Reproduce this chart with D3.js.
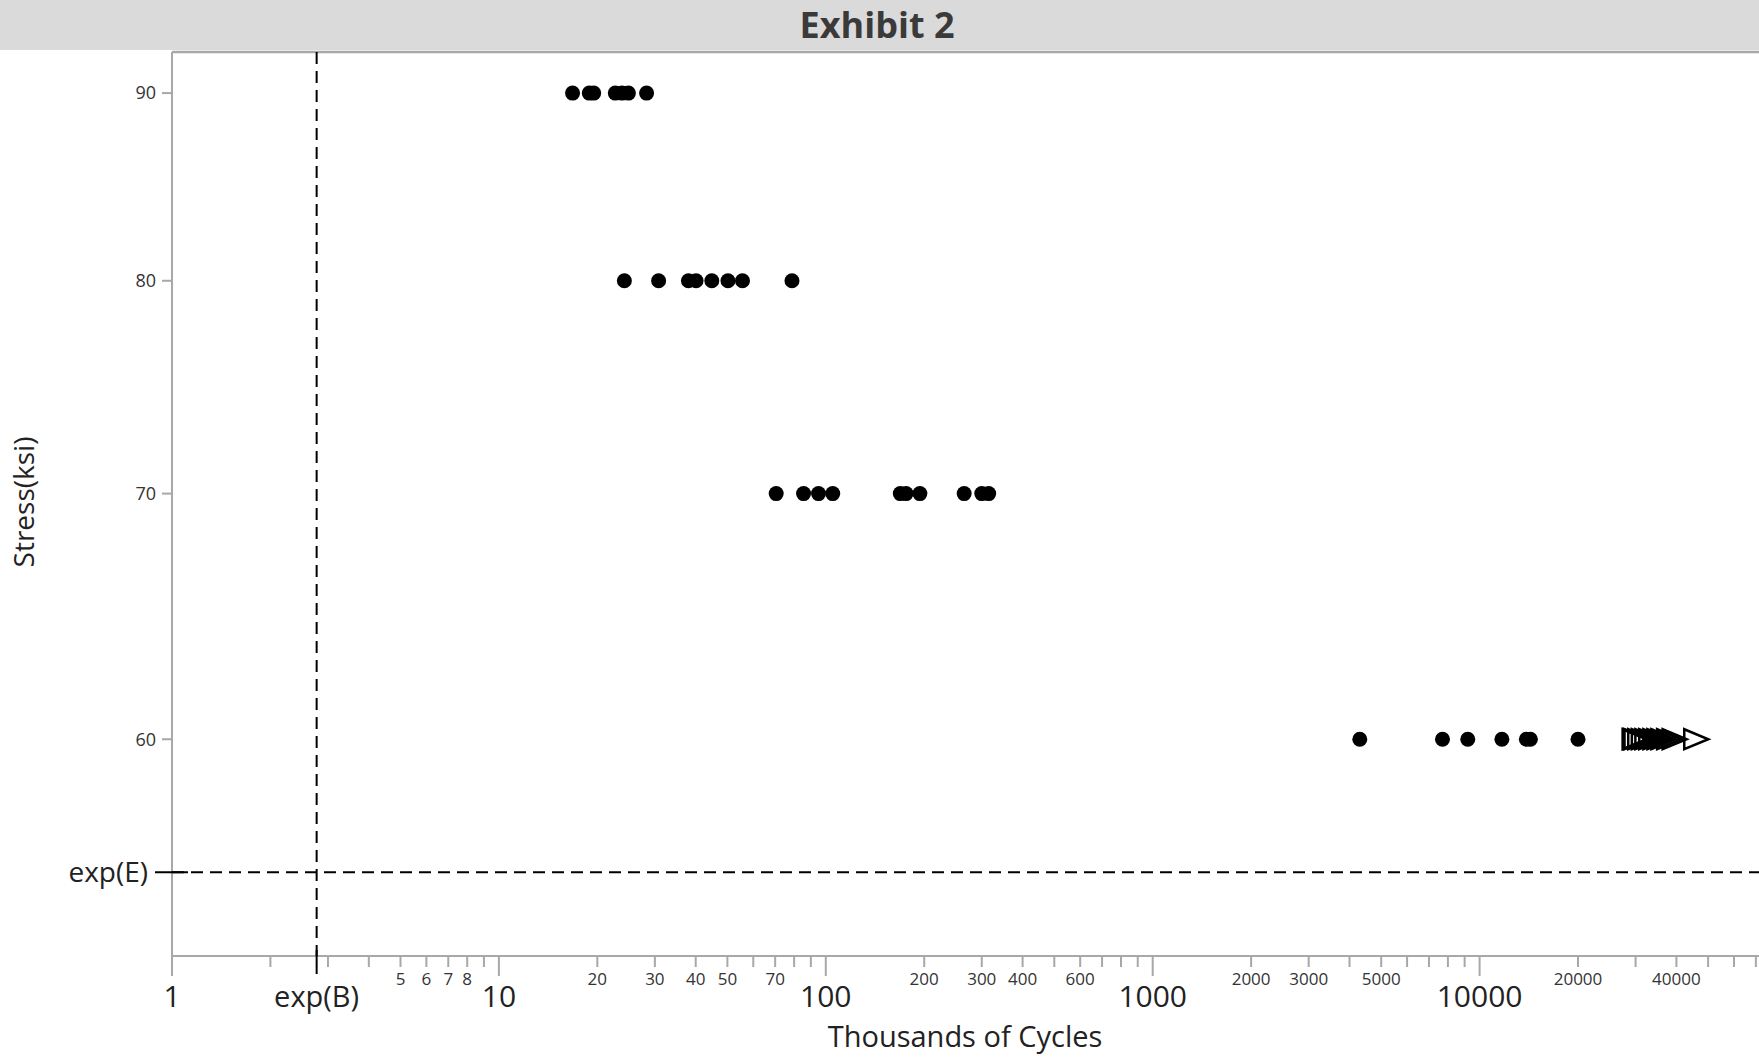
<!DOCTYPE html>
<html>
<head>
<meta charset="utf-8">
<script src="https://cdn.jsdelivr.net/npm/d3@7"></script>
<style>
  html, body { margin: 0; padding: 0; background: #fff; }
  svg { display: block; font-family: "Open Sans", "Noto Sans", sans-serif; }
</style>
</head>
<body>
<svg id="chart" width="1759" height="1059"></svg>
<script>
// Fatigue test results: cycles to failure (thousands) at each stress level
const stressLevels = [90, 80, 70, 60];
const cycles90 = [16.8, 18.9, 19.5, 22.7, 23.8, 24.9, 28.3];
const cycles80 = [24.2, 30.8, 38.0, 40.1, 44.8, 50.2, 55.6, 78.8];
const cycles70 = [70.5, 85.5, 95, 105, 169, 176, 194, 265, 300, 315];
const cycles60 = [4300, 7700, 9200, 11700, 13900, 14300, 20000];
// Specimens at 60 ksi that had not failed when testing stopped (runouts)
const runouts60 = [29800, 30000, 30200, 31000, 31800, 32600, 33500, 34500, 35500, 36500, 38000, 39500, 46000];

// Reference lines
const expB = 2.77;   // exp(B), thousands of cycles
const expE = 55.2;   // exp(E), ksi

// Axis labelling
const majorTickLabels = [1, 10, 100, 1000, 10000];
const minorTickLabels = [5, 6, 7, 8, 20, 30, 40, 50, 70, 200, 300, 400, 600, 2000, 3000, 5000, 20000, 40000];
const titleText = "Exhibit 2";
const xTitle = "Thousands of Cycles";
const yTitle = "Stress(ksi)";

const W = 1759, H = 1059;
const plotLeft = 172, plotTop = 52, plotBottom = 956;

const svg = d3.select("#chart");

const x = d3.scaleLog().domain([1, 100000]).range([plotLeft, plotLeft + 5 * 326.9]);
const y = d3.scaleLog().domain([52.37, 92.35]).range([plotBottom, plotTop]);

// Header band with title
svg.append("rect").attr("x", 0).attr("y", 0).attr("width", W).attr("height", 50).attr("fill", "#dadada");
svg.append("text")
  .attr("x", 877).attr("y", 38)
  .attr("text-anchor", "middle")
  .attr("font-size", 36).attr("font-weight", 700)
  .attr("fill", "#3a3a3a")
  .text(titleText);

// Frame: top border and left axis line
svg.append("line").attr("x1", plotLeft).attr("x2", W).attr("y1", plotTop).attr("y2", plotTop)
  .attr("stroke", "#a8a8a8").attr("stroke-width", 2.5);
svg.append("line").attr("x1", plotLeft).attr("x2", plotLeft).attr("y1", plotTop).attr("y2", plotBottom)
  .attr("stroke", "#a8a8a8").attr("stroke-width", 2);
svg.append("line").attr("x1", plotLeft).attr("x2", W).attr("y1", plotBottom).attr("y2", plotBottom)
  .attr("stroke", "#a8a8a8").attr("stroke-width", 2);

// X ticks (log decades with minor subdivisions)
const xTicks = x.ticks().filter(v => x(v) <= W);
const isMajor = v => Math.abs(Math.log10(v) - Math.round(Math.log10(v))) < 1e-9;
svg.append("g").selectAll("line").data(xTicks).join("line")
  .attr("x1", d => x(d)).attr("x2", d => x(d))
  .attr("y1", plotBottom).attr("y2", d => plotBottom + (isMajor(d) ? 20 : 11))
  .attr("stroke", "#a8a8a8").attr("stroke-width", 2);

svg.append("g").selectAll("text").data(minorTickLabels).join("text")
  .attr("x", d => x(d)).attr("y", 985)
  .attr("text-anchor", "middle").attr("font-size", 17)
  .attr("fill", "#333")
  .text(d => d);

svg.append("g").selectAll("text").data(majorTickLabels).join("text")
  .attr("x", d => x(d)).attr("y", 1007)
  .attr("text-anchor", "middle").attr("font-size", 30)
  .attr("fill", "#222")
  .text(d => d);

// Y ticks
svg.append("g").selectAll("line").data(stressLevels).join("line")
  .attr("x1", plotLeft - 10).attr("x2", plotLeft)
  .attr("y1", d => y(d)).attr("y2", d => y(d))
  .attr("stroke", "#a8a8a8").attr("stroke-width", 2);
svg.append("g").selectAll("text").data(stressLevels).join("text")
  .attr("x", 156).attr("y", d => y(d)).attr("dy", "0.35em")
  .attr("text-anchor", "end").attr("font-size", 18)
  .attr("fill", "#333")
  .text(d => d);

// exp(B) vertical reference line
svg.append("line")
  .attr("x1", x(expB)).attr("x2", x(expB)).attr("y1", plotTop).attr("y2", plotBottom)
  .attr("stroke", "#000").attr("stroke-width", 2).attr("stroke-dasharray", "12,7");
svg.append("line")
  .attr("x1", x(expB)).attr("x2", x(expB)).attr("y1", plotBottom - 6).attr("y2", plotBottom + 18)
  .attr("stroke", "#000").attr("stroke-width", 2);
svg.append("text")
  .attr("x", x(expB)).attr("y", 1007)
  .attr("text-anchor", "middle").attr("font-size", 29)
  .attr("fill", "#222")
  .text("exp(B)");

// exp(E) horizontal reference line
svg.append("line")
  .attr("x1", plotLeft).attr("x2", W).attr("y1", y(expE)).attr("y2", y(expE))
  .attr("stroke", "#000").attr("stroke-width", 2).attr("stroke-dasharray", "12,7");
svg.append("line")
  .attr("x1", 155).attr("x2", 188).attr("y1", y(expE)).attr("y2", y(expE))
  .attr("stroke", "#000").attr("stroke-width", 2);
svg.append("text")
  .attr("x", 148).attr("y", y(expE)).attr("dy", "0.35em")
  .attr("text-anchor", "end").attr("font-size", 28)
  .attr("fill", "#222")
  .text("exp(E)");

// Axis titles
svg.append("text")
  .attr("x", 965).attr("y", 1047)
  .attr("text-anchor", "middle").attr("font-size", 29)
  .attr("fill", "#222")
  .text(xTitle);
svg.append("text")
  .attr("transform", `translate(34, 502) rotate(-90)`)
  .attr("text-anchor", "middle").attr("font-size", 28)
  .attr("fill", "#222")
  .text(yTitle);

// Failures
const failures = [
  ...cycles90.map(c => ({ s: 90, c })),
  ...cycles80.map(c => ({ s: 80, c })),
  ...cycles70.map(c => ({ s: 70, c })),
  ...cycles60.map(c => ({ s: 60, c }))
];
svg.append("g").selectAll("circle").data(failures).join("circle")
  .attr("cx", d => x(d.c)).attr("cy", d => y(d.s))
  .attr("r", 7.5).attr("fill", "#000");

// Runouts drawn as right-pointing open triangles
const tri = (cx, cy) => {
  const w = 24, h = 20;
  return `M${cx - w / 2},${cy - h / 2} L${cx + w / 2},${cy} L${cx - w / 2},${cy + h / 2} Z`;
};
svg.append("g").selectAll("path").data(runouts60).join("path")
  .attr("d", d => tri(x(d), y(60)))
  .attr("fill", "none").attr("stroke", "#000").attr("stroke-width", 2.5);
</script>
</body>
</html>
